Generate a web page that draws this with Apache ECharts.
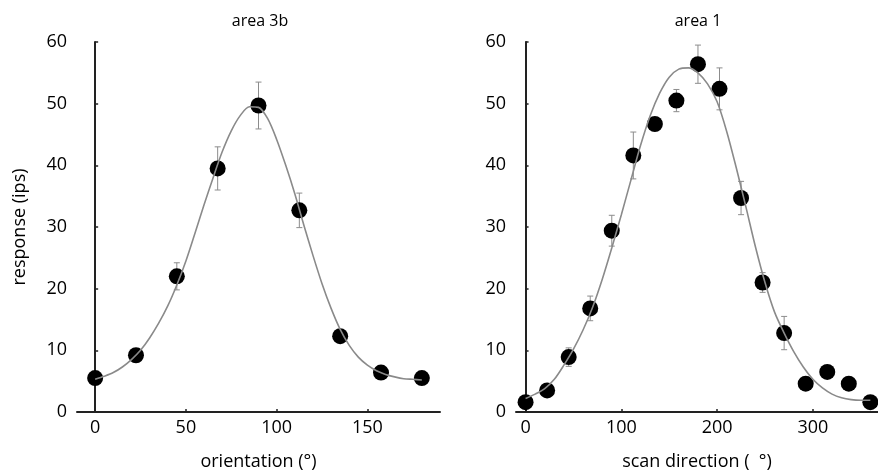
<!DOCTYPE html>
<html>
<head>
<meta charset="utf-8">
<script src="https://cdn.jsdelivr.net/npm/echarts@6/dist/echarts.min.js"></script>
<style>
  html, body { margin: 0; padding: 0; background: #fff; }
  #chart { width: 878px; height: 476px; }
</style>
</head>
<body>
<div id="chart"></div>
<script>
// area 3b: orientation tuning
const orientDeg = [0, 22.5, 45, 67.5, 90, 112.5, 135, 157.5, 180];
const area3bResp = [5.5, 9.2, 22.0, 39.5, 49.7, 32.7, 12.3, 6.4, 5.5];
const area3bErr = [0.5, 0.6, 2.2, 3.5, 3.8, 2.8, 1.0, 0.6, 0.4];
// fitted curve, every 5 deg
const area3bFitDeg = [0, 5, 10, 15, 20, 25, 30, 35, 40, 45, 50, 55, 60, 65, 70, 75, 80, 85, 90,
    95, 100, 105, 110, 115, 120, 125, 130, 135, 140, 145, 150, 155, 160, 165, 170, 175, 180];
const area3bFitResp = [5.3, 5.8, 6.4, 7.3, 8.5, 10.0, 12.0, 14.4, 17.2, 20.6, 24.5, 29.0, 33.6, 38.0, 42.2, 45.6, 48.1, 49.5, 49.4,
    47.6, 44.2, 40.0, 35.4, 30.3, 25.4, 20.8, 16.8, 13.4, 10.8, 8.9, 7.6, 6.7, 6.1, 5.7, 5.4, 5.3, 5.2];

// area 1: scan direction tuning
const scanDeg = [0, 22.5, 45, 67.5, 90, 112.5, 135, 157.5, 180, 202.5, 225, 247.5, 270, 292.5, 315, 337.5, 360];
const area1Resp = [1.6, 3.5, 8.9, 16.8, 29.4, 41.6, 46.7, 50.5, 56.4, 52.4, 34.7, 21.0, 12.8, 4.6, 6.5, 4.6, 1.6];
const area1Err = [0.5, 0.6, 1.5, 2.0, 2.5, 3.8, 0.6, 1.8, 3.1, 3.4, 2.7, 1.6, 2.7, 0.3, 0.3, 0.3, 0.3];
// fitted curve, every 10 deg
const area1FitDeg = [0, 10, 20, 30, 40, 50, 60, 70, 80, 90, 100, 110, 120, 130, 140, 150, 160, 170, 180,
    190, 200, 210, 220, 230, 240, 250, 260, 270, 280, 290, 300, 310, 320, 330, 340, 350, 360];
const area1FitResp = [2.2, 2.9, 3.8, 5.3, 7.6, 10.2, 13.3, 17.0, 21.5, 26.6, 32.0, 37.6, 43.2, 48.0, 51.7, 54.3, 55.6, 55.8, 55.0,
    53.2, 50.3, 45.5, 39.6, 33.3, 26.8, 21.0, 16.2, 12.8, 9.8, 7.3, 5.3, 3.9, 2.9, 2.3, 2.0, 1.9, 1.9];

const yTicks = [0, 10, 20, 30, 40, 50, 60];
const orientTicks = [0, 50, 100, 150];
const scanTicks = [0, 100, 200, 300];

const FONT = '"Open Sans", "Noto Sans", sans-serif';

var myChart = echarts.init(document.getElementById('chart'));

function pairs(xs, ys) {
    return xs.map(function (x, i) { return [x, ys[i]]; });
}

function errData(xs, ys, es) {
    return xs.map(function (x, i) { return [x, ys[i] - es[i], ys[i] + es[i]]; });
}

function errorBarItem(params, api) {
    var lo = api.coord([api.value(0), api.value(1)]);
    var hi = api.coord([api.value(0), api.value(2)]);
    var cap = 3;
    var style = { stroke: '#8c8c8c', lineWidth: 1 };
    return {
        type: 'group',
        children: [
            { type: 'line', shape: { x1: lo[0], y1: lo[1], x2: hi[0], y2: hi[1] }, style: style },
            { type: 'line', shape: { x1: lo[0] - cap, y1: lo[1], x2: lo[0] + cap, y2: lo[1] }, style: style },
            { type: 'line', shape: { x1: hi[0] - cap, y1: hi[1], x2: hi[0] + cap, y2: hi[1] }, style: style }
        ]
    };
}

function xAxisOpt(idx, min, max, ticks, name) {
    return {
        type: 'value',
        gridIndex: idx,
        min: min,
        max: max,
        name: name,
        nameLocation: 'middle',
        nameGap: 41,
        nameTextStyle: { color: '#000', fontSize: 18, fontFamily: FONT },
        splitLine: { show: false },
        axisLine: { onZero: false, lineStyle: { color: '#222', width: 2 } },
        axisTick: { show: true, inside: true, length: 3, customValues: ticks, lineStyle: { color: '#222', width: 1.5 } },
        axisLabel: { customValues: ticks, color: '#000', fontSize: 18, fontFamily: FONT, margin: 7 }
    };
}

function yAxisOpt(idx, name) {
    return {
        type: 'value',
        gridIndex: idx,
        min: 0,
        max: 60,
        interval: 10,
        name: name,
        nameLocation: 'middle',
        nameGap: 48,
        nameTextStyle: { color: '#000', fontSize: 18, fontFamily: FONT },
        splitLine: { show: false },
        axisLine: { show: true, lineStyle: { color: '#222', width: 2 } },
        axisTick: { show: true, inside: true, length: 3, customValues: yTicks, lineStyle: { color: '#222', width: 1.5 } },
        axisLabel: { customValues: yTicks, color: '#000', fontSize: 18, fontFamily: FONT, margin: 10 }
    };
}

var option = {
    animation: false,
    backgroundColor: '#fff',
    title: [
        { text: 'area 3b', left: 255, top: 8, textAlign: 'center',
          textStyle: { fontSize: 16, fontWeight: 'normal', color: '#000', fontFamily: FONT } },
        { text: 'area 1', left: 693, top: 8, textAlign: 'center',
          textStyle: { fontSize: 16, fontWeight: 'normal', color: '#000', fontFamily: FONT } }
    ],
    grid: [
        { left: 77, right: 438, top: 42, bottom: 63 },
        { left: 516, right: 0, top: 42, bottom: 63 }
    ],
    xAxis: [
        xAxisOpt(0, -10, 190, orientTicks, 'orientation (°)'),
        xAxisOpt(1, -10, 368, scanTicks, 'scan direction (  °)')
    ],
    yAxis: [
        yAxisOpt(0, 'response (ips)'),
        yAxisOpt(1, '')
    ],
    series: [
        {
            type: 'line', xAxisIndex: 0, yAxisIndex: 0,
            data: pairs(area3bFitDeg, area3bFitResp),
            smooth: 0.3, showSymbol: false,
            lineStyle: { color: '#8a8a8a', width: 1.6 }
        },
        {
            type: 'custom', xAxisIndex: 0, yAxisIndex: 0,
            data: errData(orientDeg, area3bResp, area3bErr),
            renderItem: errorBarItem
        },
        {
            type: 'scatter', xAxisIndex: 0, yAxisIndex: 0,
            data: pairs(orientDeg, area3bResp),
            symbolSize: 16,
            itemStyle: { color: '#000', opacity: 1 }
        },
        {
            type: 'line', xAxisIndex: 1, yAxisIndex: 1,
            data: pairs(area1FitDeg, area1FitResp),
            smooth: 0.3, showSymbol: false,
            lineStyle: { color: '#8a8a8a', width: 1.6 }
        },
        {
            type: 'custom', xAxisIndex: 1, yAxisIndex: 1,
            data: errData(scanDeg, area1Resp, area1Err),
            renderItem: errorBarItem
        },
        {
            type: 'scatter', xAxisIndex: 1, yAxisIndex: 1,
            data: pairs(scanDeg, area1Resp),
            symbolSize: 16,
            itemStyle: { color: '#000', opacity: 1 }
        }
    ]
};

myChart.setOption(option);
window.onresize = function () {
    myChart.resize();
};
</script>
</body>
</html>
